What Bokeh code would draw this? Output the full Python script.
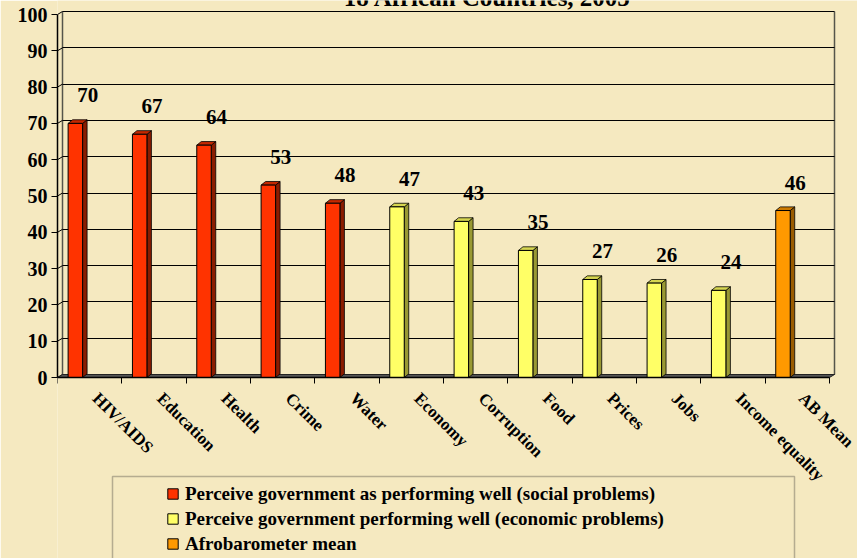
import numpy as np
from bokeh.plotting import figure
from bokeh.models import (ColumnDataSource, FixedTicker, Legend, LegendItem, Label,
                          BoxAnnotation, Range1d)
from bokeh.embed import file_html
from bokeh.resources import INLINE
from bokeh.core.properties import value

# ---------------- data ----------------
categories = ["HIV/AIDS", "Education", "Health", "Crime", "Water", "Economy",
              "Corruption", "Food", "Prices", "Jobs", "Income equality", "AB Mean"]
values = [70, 67, 64, 53, 48, 47, 43, 35, 27, 26, 24, 46]
group_of = [0, 0, 0, 0, 0, 1, 1, 1, 1, 1, 1, 2]
series_names = ["Perceive government as performing well (social problems)",
                "Perceive government performing well (economic problems)",
                "Afrobarometer mean"]
y_ticks = [0, 10, 20, 30, 40, 50, 60, 70, 80, 90, 100]
title_text = "18 African Countries, 2005"

# ---------------- style ----------------
face_colors = ["#FF3300", "#FFFF66", "#FF9900"]
side_colors = ["#8A1C00", "#999933", "#9A5C00"]
top_colors = ["#C42800", "#D6D650", "#CC7A00"]
BG = "#F5E9C0"
FONT = "Liberation Serif"

W, H = 857, 558
LEFT = 57            # frame left (front y axis)
PX_X = 64.33         # pixels per category
PX_Y = 3.63          # pixels per value unit
Y0_PIX = 377         # canvas y of value 0
n = len(categories)

x_end = (n - 0.5) + (W - LEFT - n * PX_X) / PX_X
y_start = -(H - Y0_PIX) / PX_Y
y_end = 100 + (Y0_PIX - 100 * PX_Y) / PX_Y

BAR_L, BAR_R = -0.335, -0.11     # bar edges relative to category centre
DX, DY = 0.07, 1.0               # bar depth (data units)
WX, WY = 5 / PX_X, 3 / PX_Y      # back-wall depth (data units)
LABEL_DX = -0.03
TICK_SHIFT = 0.09

xc = np.arange(n)

p = figure(width=W, height=H, output_backend="svg", toolbar_location=None,
           x_range=Range1d(-0.5, x_end), y_range=Range1d(y_start, y_end),
           min_border_left=LEFT, min_border_right=0, min_border_top=0,
           min_border_bottom=0,
           background_fill_color=BG, border_fill_color=BG,
           outline_line_color=None)

# back-wall grid (offset for 3-D look)
p.ygrid.ticker = FixedTicker(ticks=[v + WY for v in y_ticks])
p.ygrid.cross_bounds = (-0.5 + WX, n - 0.5 + WX)
p.ygrid.grid_line_color = "black"
p.ygrid.grid_line_width = 1
p.xgrid.ticker = FixedTicker(ticks=[-0.5 + WX, n - 0.5 + WX])
p.xgrid.cross_bounds = (WY, 100 + WY)
p.xgrid.grid_line_color = "#55554a"
p.xgrid.grid_line_width = 1.5

# tick connectors from front axis to back wall
p.segment(x0=[-0.5] * len(y_ticks), y0=y_ticks, x1=[-0.5 + WX] * len(y_ticks),
          y1=[v + WY for v in y_ticks], line_color="black", line_width=1)

# floor
p.patch([-0.5, n - 0.5, n - 0.5 + WX, -0.5 + WX], [0, 0, WY, WY],
        fill_color="#555555", line_color="#222222", line_width=1)

legend_items = []
for g in range(3):
    idx = [i for i in range(n) if group_of[i] == g]
    vals = np.array([values[i] for i in idx], dtype=float)
    x0 = xc[idx] + BAR_L
    x1 = xc[idx] + BAR_R
    side_xs = [[a, a + DX, a + DX, a] for a in x1]
    side_ys = [[0, DY, v + DY, v] for v in vals]
    p.patches(side_xs, side_ys, fill_color=side_colors[g], line_color="black", line_width=0.8)
    top_xs = [[a, a + DX, b + DX, b] for a, b in zip(x0, x1)]
    top_ys = [[v, v + DY, v + DY, v] for v in vals]
    p.patches(top_xs, top_ys, fill_color=top_colors[g], line_color="black", line_width=0.8)
    src = ColumnDataSource(dict(x=(x0 + x1) / 2, top=vals))
    r = p.vbar(x="x", top="top", bottom=0, width=BAR_R - BAR_L, source=src,
               fill_color=face_colors[g], line_color="black", line_width=1)
    legend_items.append(LegendItem(label=series_names[g], renderers=[r]))

# value labels
lab_src = ColumnDataSource(dict(x=xc + LABEL_DX, y=values, t=[str(v) for v in values]))
p.text(x="x", y="y", text="t", source=lab_src, text_font=value(FONT),
       text_font_style="bold", text_font_size="21px", text_align="center",
       text_baseline="middle", y_offset=-28, text_color="black")

# y axis (front)
p.yaxis.ticker = FixedTicker(ticks=y_ticks)
p.yaxis.bounds = (0, 100)
p.yaxis.major_label_text_font = FONT
p.yaxis.major_label_text_font_style = "bold"
p.yaxis.major_label_text_font_size = "20px"
p.yaxis.major_label_text_color = "black"
p.yaxis.major_tick_out = 6
p.yaxis.major_tick_in = 0
p.yaxis.minor_tick_line_color = None
p.yaxis.axis_line_color = "black"
p.yaxis.axis_line_width = 1.5
p.yaxis.major_tick_line_color = "black"
p.yaxis.major_label_standoff = 4

# x axis at value 0
p.xaxis.fixed_location = 0
p.xaxis.bounds = (-0.5, n - 0.5)
tick_pos = [float(i + TICK_SHIFT) for i in range(n)]
p.xaxis.ticker = FixedTicker(ticks=tick_pos,
                             minor_ticks=[i - 0.5 for i in range(n + 1)])
p.xaxis.major_label_overrides = {t: c for t, c in zip(tick_pos, categories)}
p.xaxis.major_label_orientation = -np.pi / 4
p.xaxis.major_label_text_font = FONT
p.xaxis.major_label_text_font_style = "bold"
p.xaxis.major_label_text_font_size = "17px"
p.xaxis.major_label_text_color = "black"
p.xaxis.major_tick_line_color = None
p.xaxis.major_tick_out = 6
p.xaxis.major_tick_in = 0
p.xaxis.minor_tick_out = 6
p.xaxis.minor_tick_in = 0
p.xaxis.minor_tick_line_color = "black"
p.xaxis.axis_line_color = "black"
p.xaxis.axis_line_width = 1.5
p.xaxis.major_label_standoff = 12

# title (partially cut off at the top edge)
p.add_layout(Label(x=487 - LEFT, y=H + 3, x_units="screen", y_units="screen",
                   text=title_text, text_font=FONT, text_font_style="bold",
                   text_font_size="25px", text_align="center",
                   text_baseline="alphabetic", text_color="black"))

# legend frame
p.add_layout(BoxAnnotation(left=112, right=794, top=476, bottom=H + 20,
                           left_units="canvas", right_units="canvas",
                           top_units="canvas", bottom_units="canvas",
                           fill_color=None, line_color="#222222", line_width=1.5))

legend = Legend(items=legend_items, location=(166 - LEFT, H - 556), padding=0, margin=0,
                spacing=0, glyph_width=13, glyph_height=13, label_standoff=6,
                label_height=25, label_text_font=FONT, label_text_font_style="bold",
                label_text_font_size="19px", label_text_color="black",
                border_line_color=None, background_fill_color=None)
p.add_layout(legend, "center")

open("out.html", "w").write(file_html(p, INLINE))
